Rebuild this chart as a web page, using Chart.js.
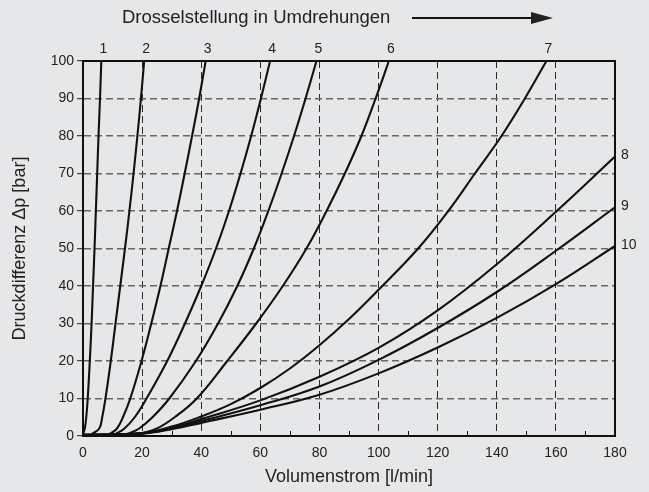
<!DOCTYPE html>
<html>
<head>
<meta charset="utf-8">
<script src="https://cdn.jsdelivr.net/npm/chart.js@4.4.1/dist/chart.umd.min.js"></script>
<style>
  html, body { margin: 0; padding: 0; background: #e6e7e9; }
</style>
</head>
<body>
<canvas id="chart" width="649" height="492"></canvas>
<script>
// Drosselkennlinien: Druckdifferenz ueber Volumenstrom je Drosselstellung
var curveNames = ['1', '2', '3', '4', '5', '6', '7', '8', '9', '10'];

var pSteps = [0.5, 2, 5, 10, 20, 30, 40, 50, 60, 70, 80, 90, 100];
var q1 = [0, 0.6, 1.1, 1.6, 2.3, 2.9, 3.4, 3.9, 4.35, 4.8, 5.25, 5.75, 6.2];
var q2 = [3, 5.5, 6.5, 7.6, 9.4, 11.0, 12.6, 14.2, 15.7, 17.1, 18.4, 19.6, 20.7];
var q3 = [9, 11.5, 13.5, 16.0, 19.8, 23.1, 26.2, 29.0, 31.8, 34.4, 36.9, 39.3, 41.5];
var q4 = [11, 14, 17.5, 21.5, 28.5, 34.5, 40.0, 45.0, 49.4, 53.3, 56.9, 60.2, 63.3];
var q5 = [15, 19, 23.5, 29.2, 38.2, 45.7, 52.2, 57.8, 62.7, 67.2, 71.4, 75.3, 79.0];
var q6 = [19, 25, 31, 38.5, 48.8, 58.6, 67.6, 75.6, 82.4, 88.6, 94.2, 99.0, 103.5];

var q7 = [0, 20, 30, 40, 50, 60, 70, 80, 90, 100, 113.4, 123.6, 132.6, 141.6, 149.5, 156.8];
var p7 = [0.3, 0.8, 2.5, 5.2, 8.5, 12.8, 18, 24.2, 31.2, 39, 50, 60, 70, 80, 90, 100];

var qFlat = [0, 20, 30, 40, 60, 80, 100, 120, 140, 160, 180];
var p8 = [0.3, 0.7, 2.2, 4.5, 9.5, 15.8, 23.5, 33.5, 45.8, 59.8, 74.5];
var p9 = [0.3, 0.7, 2.0, 4.0, 8.2, 13.2, 20.3, 28.8, 38.4, 49.4, 61];
var p10 = [0.3, 0.6, 1.8, 3.5, 7.0, 11.0, 16.7, 23.6, 31.5, 40.5, 50.7];

var xTicks = [0, 20, 40, 60, 80, 100, 120, 140, 160, 180];
var yTicks = [0, 10, 20, 30, 40, 50, 60, 70, 80, 90, 100];

var headline = 'Drosselstellung in Umdrehungen';
var xTitle = 'Volumenstrom [l/min]';
var yTitle = 'Druckdifferenz \u0394p [bar]';

var FONT = '"Liberation Sans", Arial, sans-serif';

function pts(qs, ps) {
	return qs.map(function (q, i) { return { x: q, y: ps[i] }; });
}

var series = [[q1, pSteps], [q2, pSteps], [q3, pSteps], [q4, pSteps], [q5, pSteps],
	[q6, pSteps], [q7, p7], [qFlat, p8], [qFlat, p9], [qFlat, p10]];

var datasets = series.map(function (s, i) {
	return {
		label: curveNames[i],
		data: pts(s[0], s[1]),
		borderColor: '#111',
		borderWidth: 2.1,
		pointRadius: 0,
		fill: false,
		tension: 0.4
	};
});

// frame, minor ticks, curve numbers and the headline with arrow
var decor = {
	id: 'decor',
	afterDatasetsDraw: function (chart) {
		var ctx = chart.ctx;
		var a = chart.chartArea;
		var xs = chart.scales.x;
		var ys = chart.scales.y;
		ctx.save();

		// minor ticks on the x axis
		ctx.strokeStyle = '#111';
		ctx.lineWidth = 1;
		for (var v = 10; v < 180; v += 20) {
			var px = Math.round(xs.getPixelForValue(v)) + 0.5;
			ctx.beginPath();
			ctx.moveTo(px, a.bottom);
			ctx.lineTo(px, a.bottom - 5);
			ctx.stroke();
		}

		// frame
		ctx.strokeStyle = '#111';
		ctx.lineWidth = 2;
		ctx.strokeRect(a.left, a.top, a.right - a.left, a.bottom - a.top);

		// curve numbers
		ctx.fillStyle = '#222';
		ctx.font = '14px ' + FONT;
		chart.data.datasets.forEach(function (ds) {
			var last = ds.data[ds.data.length - 1];
			if (last.y >= 100) {
				ctx.textAlign = 'center';
				ctx.textBaseline = 'bottom';
				ctx.fillText(ds.label, xs.getPixelForValue(last.x) + 2, a.top - 5);
			} else {
				ctx.textAlign = 'left';
				ctx.textBaseline = 'middle';
				ctx.fillText(ds.label, a.right + 6, ys.getPixelForValue(last.y) - 1);
			}
		});

		// headline with arrow
		ctx.font = '18.5px ' + FONT;
		ctx.textAlign = 'left';
		ctx.textBaseline = 'middle';
		ctx.fillText(headline, 122, 18);
		ctx.strokeStyle = '#111';
		ctx.lineWidth = 2;
		ctx.beginPath();
		ctx.moveTo(412, 18);
		ctx.lineTo(535, 18);
		ctx.stroke();
		ctx.beginPath();
		ctx.moveTo(553, 18);
		ctx.lineTo(531, 12);
		ctx.lineTo(531, 24);
		ctx.closePath();
		ctx.fill();

		ctx.restore();
	}
};

new Chart(document.getElementById('chart'), {
	type: 'line',
	data: { datasets: datasets },
	options: {
		responsive: false,
		animation: false,
		layout: { padding: { left: 0, top: 61, right: 34, bottom: 0 } },
		plugins: { legend: { display: false }, tooltip: { enabled: false } },
		scales: {
			x: {
				type: 'linear',
				min: 0,
				max: 180,
				afterBuildTicks: function (s) {
					s.ticks = xTicks.map(function (v) { return { value: v }; });
				},
				afterFit: function (s) { s.height = 56; },
				grid: {
					color: '#2a2a2a',
					lineWidth: 1,
					drawTicks: false
				},
				border: { display: true, color: '#111', width: 2, dash: [7, 4] },
				ticks: { color: '#222', font: { family: FONT, size: 14 }, padding: 9, maxRotation: 0 },
				title: {
					display: true,
					text: xTitle,
					color: '#222',
					font: { family: FONT, size: 18 },
					padding: { top: 0, bottom: 4 }
				}
			},
			y: {
				type: 'linear',
				min: 0,
				max: 100,
				afterBuildTicks: function (s) {
					s.ticks = yTicks.map(function (v) { return { value: v }; });
				},
				afterFit: function (s) { s.width = 83; },
				grid: {
					color: '#666',
					lineWidth: 1.4,
					drawTicks: true,
					tickLength: 6,
					tickColor: '#222',
					tickWidth: 1,
					tickBorderDash: []
				},
				border: { display: true, color: '#111', width: 2, dash: [7, 4] },
				ticks: { color: '#222', font: { family: FONT, size: 14 }, padding: 3 },
				title: {
					display: true,
					text: yTitle,
					color: '#222',
					font: { family: FONT, size: 18 },
					padding: { top: 9, bottom: 0 }
				}
			}
		}
	},
	plugins: [decor]
});
</script>
</body>
</html>
